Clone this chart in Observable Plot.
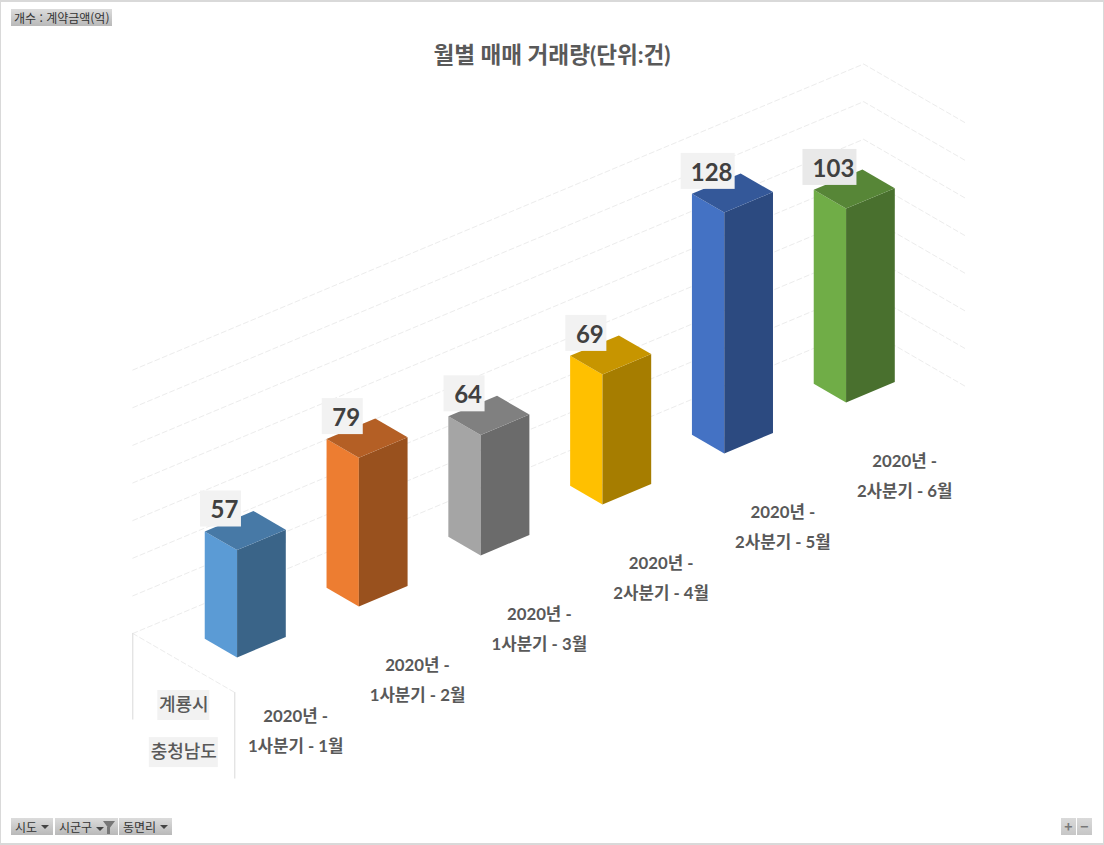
<!DOCTYPE html>
<html lang="ko">
<head>
<meta charset="utf-8">
<script src="https://cdn.jsdelivr.net/npm/d3@7"></script>
<script src="https://cdn.jsdelivr.net/npm/@observablehq/plot@0.6"></script>
<style>
html,body{margin:0;padding:0;background:#fff;overflow:hidden}
#wrap{position:relative;width:1104px;height:845px;font-family:"Noto Sans CJK KR","Noto Sans",sans-serif}
#wrap svg{position:absolute;left:0;top:0;display:block}
#frame{position:absolute;inset:0;box-sizing:border-box;border:1px solid #d9d9d9;border-top-width:2px;border-bottom-width:2px;pointer-events:none}
#title{position:absolute;left:0;width:1104px;top:40px;text-align:center;font:bold 22.6px/30px "Lato","Noto Sans CJK KR",sans-serif;color:#595959}
.btn{position:absolute;top:818px;height:17px;background:linear-gradient(#dcdcdc,#b9b9b9);color:#333;font-size:12px;line-height:17px;white-space:nowrap;box-sizing:border-box;padding-left:4px}
.tri{position:absolute;top:7px;width:0;height:0;border-left:4px solid transparent;border-right:4px solid transparent;border-top:4px solid #444}
.fun{position:absolute;top:3px;width:0;height:0;border-left:6px solid transparent;border-right:6px solid transparent;border-top:8px solid #777}
.stem{position:absolute;top:9px;width:3px;height:7px;background:#777}
.sign{text-align:center;padding:0;color:#777;font-weight:bold;font-size:14px;background:linear-gradient(#dadada,#c6c6c6)}
</style>
</head>
<body>
<div id="wrap"></div>
<script>
// ---------- data ----------
const yearLabels = ["2020년 -", "2020년 -", "2020년 -", "2020년 -", "2020년 -", "2020년 -"];
const monthLabels = ["1사분기 - 1월", "1사분기 - 2월", "1사분기 - 3월", "2사분기 - 4월", "2사분기 - 5월", "2사분기 - 6월"];
const values = [57, 79, 64, 69, 128, 103];
const frontColors = ["#5b9bd5", "#ed7d31", "#a5a5a5", "#ffc000", "#4472c4", "#70ad47"];
const sideColors = ["#3a6488", "#99511e", "#6b6b6b", "#a67d00", "#2c4a80", "#49702e"];
const topColors = ["#4779a6", "#b45f25", "#808080", "#c79500", "#345899", "#578637"];
const gridTicks = [0, 20, 40, 60, 80, 100, 120, 140];
const rowLabels = ["계룡시", "충청남도"];
const title = "월별 매매 거래량(단위:건)";

// ---------- oblique 3D model: c along categories, d in depth, v = value ----------
const W = 1104, H = 845;
const stepX = 121.8, stepY = 51, depthX = 102, depthY = 59, unit = 1.882, originX = 234.3, originY = 692;
const px = (c, d) => c - (depthX / stepX) * d;                 // x scale unit = one category step
const py = (c, d, v) => v + (stepY * c + depthY * d) / unit;   // y scale unit = one value unit
const wx = (pixels) => pixels / stepX, wy = (pixels) => pixels / unit;

const barLo = 0.3, barHi = 0.7, depLo = 0.336, depHi = 0.653;
const polys = [];
values.forEach((v, i) => {
  const a = i + barLo, b = i + barHi;
  const face = (id, fill, pts) => pts.forEach(([c, d, val]) =>
    polys.push({id: `${i}-${id}`, fill, x: px(c, d), y: py(c, d, val)}));
  face("front", frontColors[i], [[a, depLo, 0], [a, depLo, v], [a, depHi, v], [a, depHi, 0]]);
  face("side", sideColors[i], [[a, depLo, 0], [b, depLo, 0], [b, depLo, v], [a, depLo, v]]);
  face("top", topColors[i], [[a, depLo, v], [b, depLo, v], [b, depHi, v], [a, depHi, v]]);
});

const grid = gridTicks.flatMap((v) => [[0, 1], [6, 1], [6, 0]].map(([c, d]) => ({v, x: px(c, d), y: py(c, d, v)})));
const floorEdge = [[0, 1], [0, 0]].map(([c, d]) => ({x: px(c, d), y: py(c, d, 0)}));
const axisDrop = -45.5;
const axisLines = [[0, 1], [0, 0]].flatMap(([c, d], k) => [0, axisDrop].map((v) => ({k, x: px(c, d), y: py(c, d, v)})));

const valueRows = values.map((v, i) => {
  const c = i + barHi, d = depHi, w = String(v).length > 2 ? 54 : 41;
  return {label: String(v), x: px(c, d), y: py(c, d, v), w, shade: i === 5 ? "#e9e9e9" : "#f2f2f2"};
});
const catRows = monthLabels.flatMap((m, i) => [
  {label: yearLabels[i], x: px(i + 0.5, 0), y: py(i + 0.5, 0, -26.6)},
  {label: m, x: px(i + 0.5, 0), y: py(i + 0.5, 0, -42.3)}
]);
const rowRows = rowLabels.map((label, k) => ({
  label, x: px(0, 0.5), y: py(0, 0.5, k === 0 ? -22.6 : -47.6), w: k === 0 ? 52 : 69
}));

const KO = '"Noto Sans CJK KR","Lato",sans-serif';
const plot = Plot.plot({
  width: W, height: H,
  marginTop: 0, marginRight: 0, marginBottom: 0, marginLeft: 0,
  style: {background: "transparent"},
  x: {type: "linear", axis: null, domain: [-originX / stepX, (W - originX) / stepX], range: [0, W]},
  y: {type: "linear", axis: null, domain: [originY / unit, (originY - H) / unit], range: [0, H]},
  color: {type: "identity"},
  marks: [
    Plot.line(grid, {x: "x", y: "y", z: "v", stroke: "#ececec", strokeWidth: 1, strokeDasharray: "5 3"}),
    Plot.line(floorEdge, {x: "x", y: "y", stroke: "#ececec", strokeWidth: 1, strokeDasharray: "5 3"}),
    Plot.line(axisLines, {x: "x", y: "y", z: "k", stroke: "#d9d9d9", strokeWidth: 1}),
    Plot.line(polys, {x: "x", y: "y", z: "id", fill: "fill", stroke: "none", curve: "linear"}),
    Plot.rect(valueRows, {
      x1: (r) => r.x - wx(r.w / 2 + 32.5), x2: (r) => r.x + wx(r.w / 2 - 32.5),
      y1: (r) => r.y + wy(2 - 18), y2: (r) => r.y + wy(2 + 18), fill: "shade", inset: 0
    }),
    Plot.text(valueRows, {
      x: (r) => r.x - wx(29), y: (r) => r.y + wy(0.5), text: "label",
      fontFamily: '"Lato","Noto Sans",sans-serif', fontWeight: 700, fontSize: 24, fill: "#404040"
    }),
    Plot.text(catRows, {x: "x", y: "y", text: "label", fontFamily: '"Lato","Noto Sans CJK KR",sans-serif', fontWeight: 700, fontSize: 16.8, fill: "#595959"}),
    Plot.rect(rowRows, {
      x1: (r) => r.x - wx(r.w / 2), x2: (r) => r.x + wx(r.w / 2),
      y1: (r) => r.y - wy(15), y2: (r) => r.y + wy(15), fill: "#f2f2f2"
    }),
    Plot.text(rowRows, {x: "x", y: "y", text: "label", fontFamily: KO, fontWeight: 500, fontSize: 18, fill: "#595959"})
  ]
});

const wrap = document.getElementById("wrap");
wrap.appendChild(plot);

// ---------- title and pivot-chart field buttons ----------
const el = (cls, css, text, parent = wrap) => {
  const n = document.createElement("div");
  n.className = cls; n.style.cssText = css; if (text) n.textContent = text;
  parent.appendChild(n); return n;
};
el("", "", "").id = "frame";
el("", "", title).id = "title";
el("btn", "left:11px;top:9px;width:101px;padding-left:3px", "개수 : 계약금액(억)");
const sido = el("btn", "left:11px;width:42px", "시도");
el("tri", "left:30px", "", sido);
const sigungu = el("btn", "left:55px;width:63px", "시군구");
el("tri", "left:41px;top:9px", "", sigungu);
el("fun", "left:48px", "", sigungu);
el("stem", "left:52px", "", sigungu);
const dong = el("btn", "left:119px;width:53px", "동면리");
el("tri", "left:41px", "", dong);
el("btn sign", "left:1061px;width:15px", "+");
el("btn sign", "left:1077px;width:15px", "−");
</script>
</body>
</html>
